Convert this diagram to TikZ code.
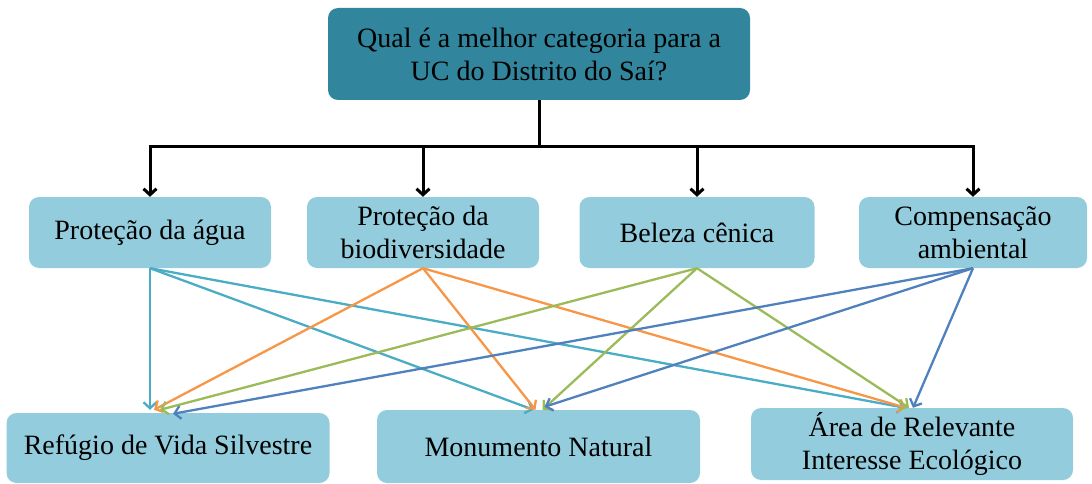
\documentclass[tikz,border=0pt]{standalone}
\usepackage{fontspec}
\setmainfont{Liberation Serif}
\usetikzlibrary{arrows.meta}
\definecolor{topfill}{HTML}{31859C}
\definecolor{boxfill}{HTML}{93CDDD}
\definecolor{cteal}{HTML}{4BACC6}
\definecolor{corange}{HTML}{F79646}
\definecolor{cgreen}{HTML}{9BBB59}
\definecolor{cblue}{HTML}{4F81BD}
\begin{document}
\begin{tikzpicture}[x=1pt,y=-1pt,
  box/.style={fill=boxfill, rounded corners=10pt, align=center, inner sep=0pt,
    font=\fontsize{28}{33}\selectfont, text=black},
  blk/.style={line width=3pt, black},
  blkarr/.style={line width=3pt, black, -{Straight Barb[length=6pt,width=13pt]}},
  carr/.style={line width=2.3pt, -{Straight Barb[length=6pt,width=13pt]}}]
\useasboundingbox (0,0) rectangle (1092,484);
\node[box, fill=topfill, minimum width=422pt, minimum height=92pt] (q) at (539,54)
  {Qual é a melhor categoria para a\\UC do Distrito do Saí?};
\node[box, minimum width=242pt, minimum height=71pt] (water) at (150,232.5) {Proteção da água};
\node[box, minimum width=232pt, minimum height=71pt] (bio) at (423,232.5) {Proteção da\\biodiversidade};
\node[box, minimum width=235pt, minimum height=71pt] (bel) at (697,232.5) {Beleza cênica};
\node[box, minimum width=228pt, minimum height=71pt] (comp) at (973,232.5) {Compensação\\ambiental};
\node[box, minimum width=323pt, minimum height=70pt] (ref) at (168,448) {Refúgio de Vida Silvestre};
\node[box, minimum width=323pt, minimum height=73pt] (mon) at (538.5,446.5) {Monumento Natural};
\node[box, minimum width=322pt, minimum height=72pt] (are) at (912,444) {Área de Relevante\\Interesse Ecológico};
\coordinate (bus) at (539,147);
\draw[blk] (q.south) -- (bus);
\draw[blkarr] (bus) -| (water.north);
\draw[blkarr] (bus) -| (bio.north);
\draw[blkarr] (bus) -| (bel.north);
\draw[blkarr] (bus) -| (comp.north);
% water
\draw[carr, cteal] (water.south) -- ([xshift=-18pt,yshift=3pt]ref.north);
\draw[carr, cteal] (water.south) -- ([xshift=-5pt]mon.north);
\draw[carr, cteal] (water.south) -- ([xshift=-7pt]are.north);
% bio
\draw[carr, corange] (bio.south) -- ([xshift=-14pt,yshift=3pt]ref.north);
\draw[carr, corange] (bio.south) -- ([xshift=-3pt]mon.north);
\draw[carr, corange] (bio.south) -- ([xshift=-6pt]are.north);
% beleza
\draw[carr, cgreen] (bel.south) -- ([xshift=-8pt,yshift=3pt]ref.north);
\draw[carr, cgreen] (bel.south) -- ([xshift=4pt]mon.north);
\draw[carr, cgreen] (bel.south) -- ([xshift=-3pt]are.north);
% compensacao
\draw[carr, cblue] (comp.south) -- ([xshift=5pt,yshift=-1pt]ref.north);
\draw[carr, cblue] (comp.south) -- ([xshift=6pt,yshift=3pt]mon.north);
\draw[carr, cblue] (comp.south) -- ([xshift=1pt]are.north);
\end{tikzpicture}
\end{document}
